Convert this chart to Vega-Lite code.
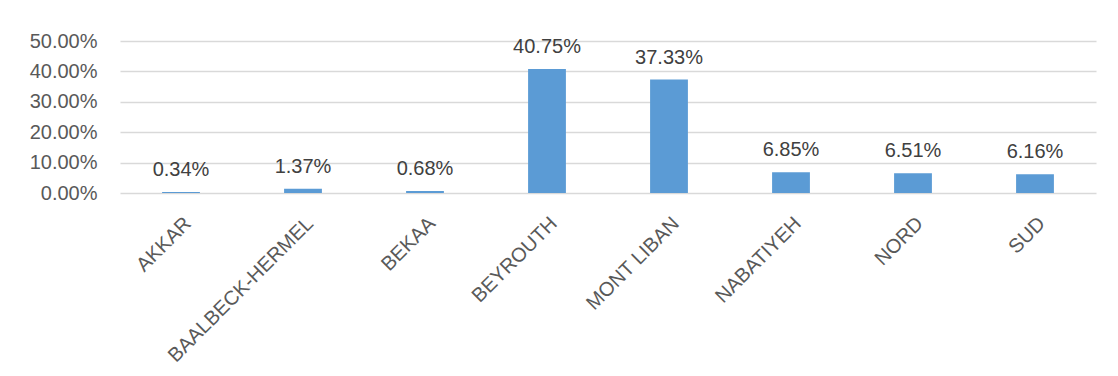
{
  "$schema": "https://vega.github.io/schema/vega-lite/v6.json",
  "autosize": "none",
  "width": 976,
  "height": 152,
  "padding": {"left": 120, "top": 41, "right": 22, "bottom": 183},
  "background": "white",
  "data": {
    "values": [
      {"region": "AKKAR", "pct": 0.0034},
      {"region": "BAALBECK-HERMEL", "pct": 0.0137},
      {"region": "BEKAA", "pct": 0.0068},
      {"region": "BEYROUTH", "pct": 0.4075},
      {"region": "MONT LIBAN", "pct": 0.3733},
      {"region": "NABATIYEH", "pct": 0.0685},
      {"region": "NORD", "pct": 0.0651},
      {"region": "SUD", "pct": 0.0616}
    ]
  },
  "encoding": {
    "x": {
      "field": "region", "type": "nominal", "sort": null, "title": null,
      "scale": {"paddingInner": 0.69, "paddingOuter": 0.345},
      "axis": {"labelAngle": -45, "ticks": false, "domain": false, "labelPadding": 20, "labelLimit": 400,
               "labelFont": "Liberation Sans", "labelFontSize": 20, "labelColor": "#595959"}
    },
    "y": {
      "field": "pct", "type": "quantitative", "title": null,
      "scale": {"domain": [0, 0.5], "nice": false},
      "axis": {"values": [0, 0.1, 0.2, 0.3, 0.4, 0.5], "format": ".2%", "ticks": false, "domain": false,
               "labelPadding": 23, "grid": true, "gridColor": "#D9D9D9", "gridWidth": 1.5,
               "labelFont": "Liberation Sans", "labelFontSize": 20, "labelColor": "#595959"}
    }
  },
  "layer": [
    {"mark": {"type": "bar", "color": "#5B9BD5"}},
    {"mark": {"type": "text", "baseline": "bottom", "dy": -12, "font": "Liberation Sans", "fontSize": 20, "color": "#404040"},
     "encoding": {"text": {"field": "pct", "type": "quantitative", "format": ".2%"}}}
  ],
  "config": {"view": {"stroke": null}}
}
